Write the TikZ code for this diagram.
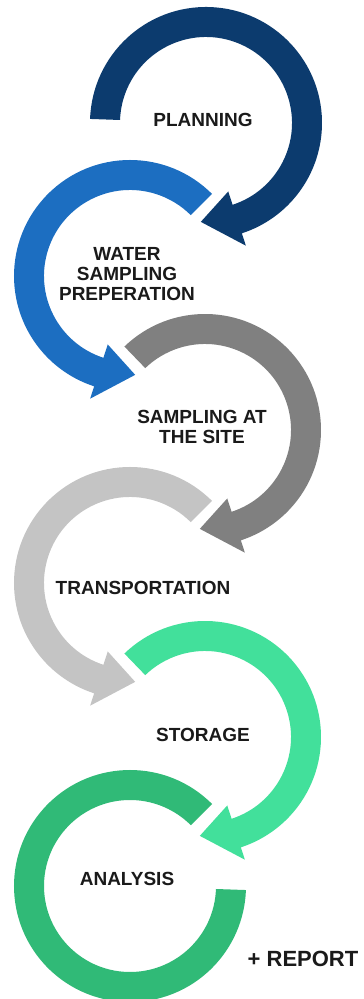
\documentclass[tikz,border=0pt]{standalone}
\usepackage{fontspec}
\setmainfont{Liberation Sans}
\definecolor{cNavy}{HTML}{0C3B6E}
\definecolor{cBlue}{HTML}{1C6EC1}
\definecolor{cGray}{HTML}{808080}
\definecolor{cLight}{HTML}{C4C4C4}
\definecolor{cMint}{HTML}{42E09B}
\definecolor{cGreen}{HTML}{30BA77}
\definecolor{cText}{HTML}{1A1A1A}
% clockwise circular arrow: centre x, centre y, start angle, colour
\newcommand\RingArrowCW[4]{%
  \fill[#4, shift={(#1pt,#2pt)}]
    (#3:116pt) arc[start angle=#3, end angle=-72, radius=116pt]
    -- (-72:129pt) -- (-93:99pt) -- (-72:72pt) -- (-72:86pt)
    arc[start angle=-72, end angle=#3, radius=86pt] -- cycle;}
% counter-clockwise circular arrow
\newcommand\RingArrowCCW[4]{%
  \fill[#4, shift={(#1pt,#2pt)}]
    (#3:116pt) arc[start angle=#3, end angle=252, radius=116pt]
    -- (252:129pt) -- (273:99pt) -- (252:72pt) -- (252:86pt)
    arc[start angle=252, end angle=#3, radius=86pt] -- cycle;}
\tikzset{
  lbl/.style={text=cText, font=\bfseries\fontsize{19}{20}\selectfont, align=center, inner sep=0pt},
}
\begin{document}
\begin{tikzpicture}[x=1pt,y=1pt]
\useasboundingbox[fill=white] (0,0) rectangle (364,999);
\RingArrowCW{206}{876}{178}{cNavy}
\RingArrowCCW{130}{723}{45}{cBlue}
\RingArrowCW{205}{569}{134}{cGray}
\RingArrowCCW{130}{416}{45}{cLight}
\RingArrowCW{205}{262}{134}{cMint}
\fill[cGreen, shift={(130pt,113pt)}]
  (45:116pt) arc[start angle=45, end angle=358, radius=116pt]
  -- (358:86pt) arc[start angle=358, end angle=45, radius=86pt] -- cycle;
\node[lbl] (planning) at (203,879) {PLANNING};
\node[lbl] (prep) at (127,725) {WATER\\SAMPLING\\PREPERATION};
\node[lbl] (site) at (202,572) {SAMPLING AT\\THE SITE};
\node[lbl] (transport) at (143,411) {TRANSPORTATION};
\node[lbl] (storage) at (203,264) {STORAGE};
\node[lbl] (analysis) at (127,120) {ANALYSIS};
\node[lbl, font=\bfseries\fontsize{22}{24}\selectfont] (report) at (303,40) {+ REPORT};
\end{tikzpicture}
\end{document}
